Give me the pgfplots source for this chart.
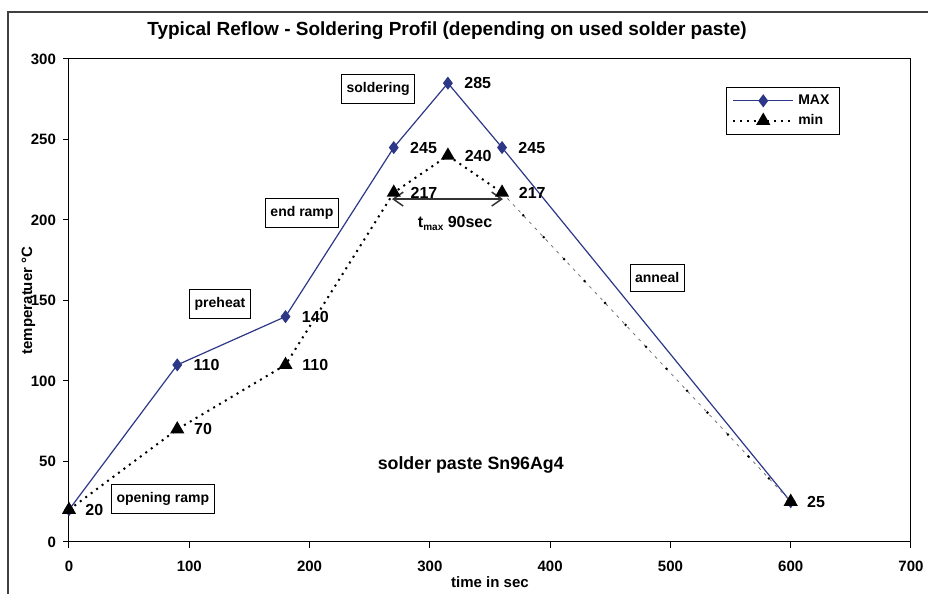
\documentclass[border=0pt]{standalone}
\usepackage{fontspec}
\setmainfont{Liberation Sans}
\usepackage{pgfplots}
\pgfplotsset{compat=1.18}
\usetikzlibrary{arrows.meta}
\definecolor{maxblue}{RGB}{45,55,135}
\newcommand{\lblfont}{\bfseries\fontsize{8}{9.6}\selectfont}
\newcommand{\tkfont}{\bfseries\fontsize{7.5}{9}\selectfont}
\newcommand{\boxfont}{\bfseries\fontsize{7}{8.4}\selectfont}
\begin{document}
\begin{tikzpicture}
\path[use as bounding box] (0,0) rectangle (464pt,297pt);
\draw[line width=0.75pt, black!75] (4pt,0pt) -- (4pt,291pt) -- (470pt,291pt);
\node[font=\bfseries\fontsize{9.5}{11}\selectfont] at (223.5pt,281.5pt) {Typical Reflow - Soldering Profil (depending on used solder paste)};
\begin{axis}[
  at={(34.5pt,26pt)}, anchor=origin,
  scale only axis, width=421pt, height=241.5pt,
  xmin=0, xmax=700, ymin=0, ymax=300,
  xtick={0,100,...,700}, ytick={0,50,...,300},
  tick pos=left, tick align=outside, major tick length=3pt,
  axis line style={line width=0.5pt},
  tick style={black, line width=0.5pt},
  ticklabel style={font=\tkfont},
  xticklabel style={yshift=-3pt},
  /pgf/number format/assume math mode=true,
  xlabel={time in sec}, ylabel={temperatuer °C},
  label style={font=\tkfont},
  xlabel style={yshift=4.5pt},
  ylabel style={yshift=-9pt},
  clip=false,
  legend style={at={(0.780,0.942)}, anchor=north west, draw=black, line width=0.5pt,
    font=\boxfont, inner xsep=3pt, inner ysep=1.5pt, row sep=-0.5pt},
  legend cell align=left,
  legend image code/.code={%
    \draw[mark repeat=2,mark phase=2,#1] plot coordinates {(0pt,0pt) (15pt,0pt) (30pt,0pt)};},
]
\addplot[maxblue, line width=0.6pt, mark=diamond*, mark size=2.8pt, mark options={solid, fill=maxblue},
  nodes near coords,
  every node near coord/.style={anchor=west, xshift=4.6pt, font=\lblfont, text=black}]
  coordinates {(0,20) (90,110) (180,140) (270,245) (315,285) (360,245) (600,25)};
\addlegendentry{MAX}
\addplot[black, line width=1pt, dash pattern=on 1pt off 2.4pt, mark=triangle*, mark size=3.1pt, mark options={solid, fill=black},
  point meta=explicit symbolic, nodes near coords,
  every node near coord/.style={anchor=west, xshift=4.6pt, font=\lblfont, text=black}]
  coordinates {(0,20)[] (90,70)[70] (180,110)[110] (270,217)[217] (315,240)[240] (360,217)[217]};
\addlegendentry{min}
\addplot[black!55, line width=0.4pt, dash pattern=on 1.5pt off 2.5pt, forget plot]
  coordinates {(360,217) (600,25)};
\addplot[black, line width=1pt, dash pattern=on 1pt off 14pt, mark=triangle*, mark size=3.1pt, mark options={solid, fill=black}, forget plot, mark indices={2}]
  coordinates {(360,217) (600,25)};
% annotations
\tikzset{annbox/.style={draw=black, line width=0.5pt, fill=white, font=\boxfont, inner xsep=2.5pt, inner ysep=4pt}}
\node[annbox] at (axis cs:257,281.4) {soldering};
\node[annbox] at (axis cs:193.7,204.3) {end ramp};
\node[annbox] at (axis cs:125.5,147.8) {preheat};
\node[annbox] at (axis cs:78,26.7) {opening ramp};
\node[annbox] at (axis cs:489,164) {anneal};
\node[font=\bfseries\fontsize{8.9}{10.5}\selectfont] at (axis cs:334,47.8) {solder paste Sn96Ag4};
\draw[line width=0.75pt, black!80, {Straight Barb[length=5pt,width=7pt]}-{Straight Barb[length=5pt,width=7pt]}] (axis cs:268.5,213) -- (axis cs:360.8,213);
\node[font=\lblfont] at (axis cs:321,198) {t\raisebox{-0.35ex}{\bfseries\fontsize{5}{5}\selectfont max} 90sec};
\end{axis}
\end{tikzpicture}
\end{document}
